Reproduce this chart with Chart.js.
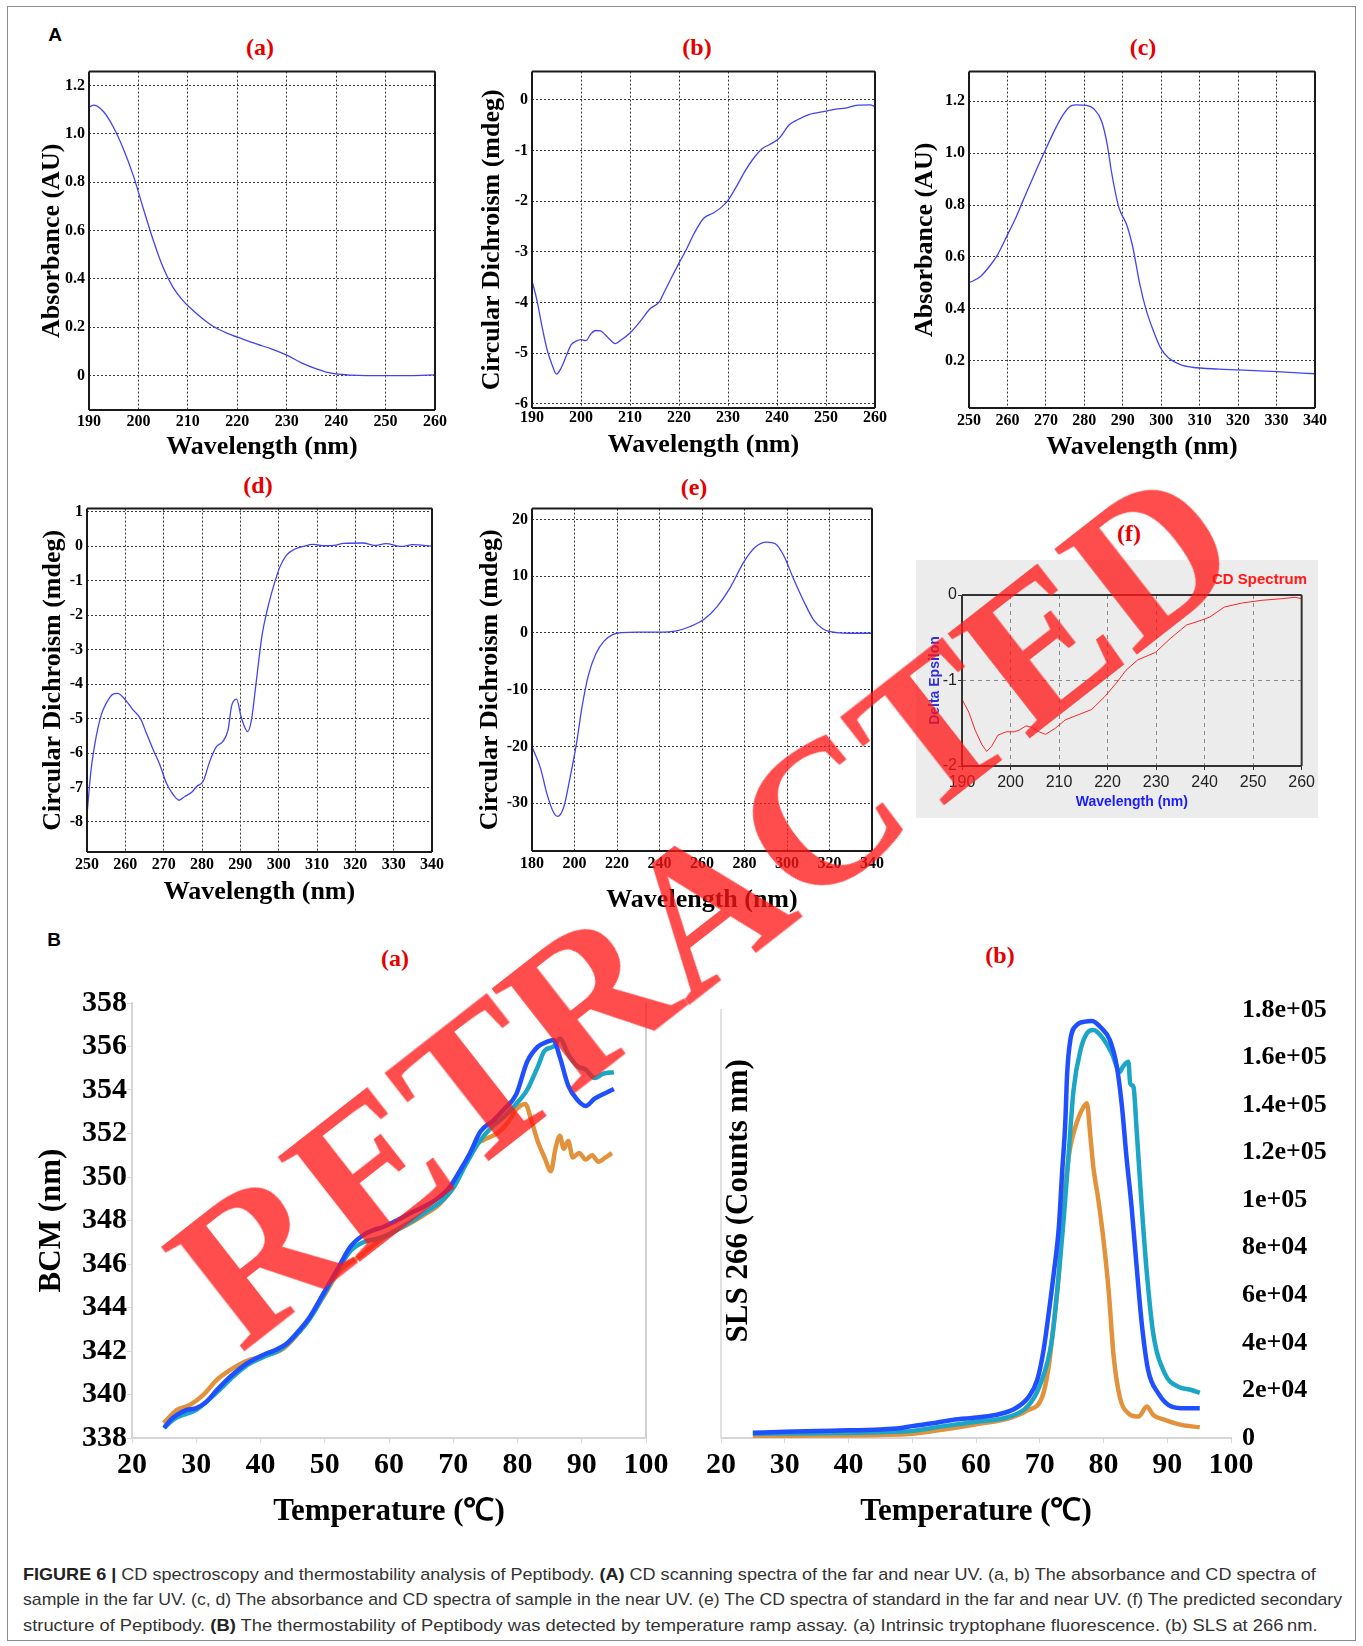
<!DOCTYPE html>
<html>
<head>
<meta charset="utf-8">
<script src="https://cdn.jsdelivr.net/npm/chart.js@4.4.0/dist/chart.umd.min.js"></script>
<style>
  body { margin: 0; background: #fff; }
  #page { position: relative; width: 1363px; height: 1646px; overflow: hidden; font-family: "Liberation Serif", "Times New Roman", serif; }
  #frame { position: absolute; left: 7px; top: 6px; width: 1347px; height: 1633px; border: 1.5px solid #8c8c8c; }
  canvas { position: absolute; }
  .lab { position: absolute; transform: translate(-50%, -50%); white-space: nowrap; }
  .red { color: #e60000; font: bold 24px "Liberation Serif", serif; }
  .big { font: bold 19px "Liberation Sans", Arial, sans-serif; color: #000; }
  #fbox { position: absolute; left: 916px; top: 560px; width: 402px; height: 258px; background: #ececec; }
  #cdspec { position: absolute; right: 56px; top: 570px; font: bold 15px "Liberation Sans", Arial, sans-serif; color: #ff1a1a; }
  #stamp { position: absolute; left: 703px; top: 906px; transform: translate(-50%, -50%) rotate(-38deg);
           font: bold 204px "Liberation Serif", "Times New Roman", serif; line-height: 1; color: rgba(255, 20, 20, 0.76);
           white-space: nowrap; z-index: 5; }
  .cap { position: absolute; left: 23px; white-space: nowrap; transform-origin: left center;
         font: 17px "Liberation Sans Narrow", "Liberation Sans", Arial, sans-serif; color: #333; line-height: 20px; }
  .cap b { color: #222; }
</style>
</head>
<body>
<div id="page">
  <div id="frame"></div>
  <div class="lab big" style="left:55px;top:35px">A</div>
  <div class="lab big" style="left:54px;top:940px">B</div>
  <div class="lab red" style="left:260px;top:47px">(a)</div>
  <div class="lab red" style="left:697px;top:47px">(b)</div>
  <div class="lab red" style="left:1143px;top:47px">(c)</div>
  <div class="lab red" style="left:258px;top:485px">(d)</div>
  <div class="lab red" style="left:694px;top:487px">(e)</div>
  <div id="fbox"></div>
  <div class="lab red" style="left:1129px;top:533px">(f)</div>
  <div id="cdspec">CD Spectrum</div>
  <div class="lab red" style="left:395px;top:958px">(a)</div>
  <div class="lab red" style="left:1000px;top:955px">(b)</div>

  <canvas id="cA"></canvas>
  <canvas id="cB"></canvas>
  <canvas id="cC"></canvas>
  <canvas id="cD"></canvas>
  <canvas id="cE"></canvas>
  <canvas id="cF"></canvas>
  <canvas id="cBCM"></canvas>
  <canvas id="cSLS"></canvas>

  <div id="stamp">RETRACTED</div>

  <div class="cap" data-w="1293" style="top:1565px"><b>FIGURE 6 |</b> CD spectroscopy and thermostability analysis of Peptibody. <b>(A)</b> CD scanning spectra of the far and near UV. (a, b) The absorbance and CD spectra of</div>
  <div class="cap" data-w="1319" style="top:1590px">sample in the far UV. (c, d) The absorbance and CD spectra of sample in the near UV. (e) The CD spectra of standard in the far and near UV. (f) The predicted secondary</div>
  <div class="cap" data-w="1295" style="top:1616px">structure of Peptibody. <b>(B)</b> The thermostability of Peptibody was detected by temperature ramp assay. (a) Intrinsic tryptophane fluorescence. (b) SLS at 266&#8201;nm.</div>
</div>

<script>
// (A a) far UV absorbance
const wlFarAbs = [190,191,193,195,197,199,201,203,205,207,209,211,213,215,218,221,224,227,230,233,236,238,240,243,246,250,255,260];
const farAbs   = [1.11,1.118,1.09,1.025,0.935,0.825,0.69,0.56,0.447,0.365,0.31,0.27,0.235,0.205,0.175,0.152,0.13,0.11,0.085,0.053,0.028,0.015,0.007,0.002,0.0,0.0,0.0,0.003];

// (A b) far UV CD
const wlFarCd = [190,191,192,193,194,195,196,197,198,199,200,201,202,203,204,205,206,207,208,210,212,214,216,217,218.5,220,221.5,223,225,227,228.5,230,232,233.5,235,237,238.5,240.5,242.5,244,246.5,250,252,254,256.5,259,260];
const farCd   = [-3.57,-3.95,-4.45,-4.9,-5.2,-5.41,-5.28,-5.05,-4.83,-4.76,-4.73,-4.75,-4.62,-4.55,-4.56,-4.64,-4.74,-4.81,-4.75,-4.6,-4.38,-4.13,-3.98,-3.79,-3.5,-3.22,-2.95,-2.65,-2.34,-2.23,-2.13,-1.98,-1.66,-1.40,-1.18,-0.96,-0.88,-0.75,-0.49,-0.40,-0.29,-0.22,-0.18,-0.16,-0.10,-0.095,-0.13];

// (A c) near UV absorbance
const wlNearAbs = [250,253,255.5,257.5,260,262,264,267,269.5,272,274.5,276.5,278,280.5,282.5,284.5,286,287,289,291,292.5,294.5,296,298,300,302,305,308,315,320,330,340];
const nearAbs   = [0.50,0.525,0.567,0.61,0.685,0.745,0.815,0.918,1.0,1.08,1.148,1.182,1.186,1.184,1.17,1.123,1.03,0.933,0.79,0.725,0.645,0.49,0.40,0.314,0.245,0.21,0.185,0.175,0.168,0.165,0.158,0.15];

// (A d) near UV CD
const wlNearCd = [250,251,252.4,253.7,255,256.8,258,260,262,264,265.5,267.3,269,270.7,272.5,274,275.5,277.3,278.6,280.3,282,283.8,285.4,286.8,287.7,289,290.3,291.9,292.9,294.1,295.6,297,298.6,300.3,302,304,306.5,309,312,314.5,317,322,325,328,332,335,340];
const nearCd   = [-7.8,-6.55,-5.52,-4.9,-4.56,-4.29,-4.27,-4.46,-4.75,-5.01,-5.43,-5.91,-6.34,-6.87,-7.21,-7.37,-7.26,-7.14,-6.97,-6.82,-6.25,-5.81,-5.67,-5.33,-4.65,-4.44,-4.99,-5.38,-5.04,-3.98,-2.63,-1.86,-1.19,-0.61,-0.27,-0.1,-0.01,0.05,0.01,0.02,0.08,0.09,0.02,0.07,-0.01,0.04,0.0];

// (A e) standard CD
const wlStd = [180,184,187,190,192,195,198,201,203.5,206.5,210,214,218,222,230,240,248,254.5,261,267,273,279.5,285,290.5,294.5,298.5,303,308,312.5,317,323.5,330,340];
const stdCd = [-20.1,-23.8,-28.3,-31.5,-32.3,-30.6,-25.3,-19.3,-13.1,-7.5,-3.7,-1.4,-0.3,0.05,0.15,0.15,0.38,1.14,2.4,4.6,7.8,12.4,15.1,16.0,15.7,13.6,9.6,5.5,2.3,0.7,0.05,-0.05,-0.05];

// (A f) predicted CD spectrum
const wlPred = [190,191.4,192.7,194.1,195.1,196.1,197.4,199.1,200.8,201.8,203.2,204.5,205.9,207.2,209.2,211.3,214,216.7,219.4,221.8,223.8,226.2,229.9,232.9,236.3,238.3,241,244.1,247.8,251.8,255.9,258.6,260];
const predDe = [-1.22,-1.37,-1.58,-1.75,-1.83,-1.77,-1.64,-1.60,-1.60,-1.58,-1.53,-1.55,-1.60,-1.63,-1.56,-1.46,-1.40,-1.34,-1.19,-1.03,-0.88,-0.76,-0.67,-0.51,-0.35,-0.315,-0.26,-0.14,-0.093,-0.062,-0.043,-0.027,-0.043];

// (B a) barycentric mean vs temperature
const bcmTBlue = [25,26,27,28.5,30,31.6,33.2,35.3,37.9,40.4,42.5,44.1,45.6,47.7,49.8,51.9,54,56,57.6,59.1,61.2,63.3,65.4,67.5,69.5,71.1,72.6,74.2,76.3,77.8,79.8,81.5,83.2,84.5,85.6,86.6,87.9,89.3,90.6,92,93.3,95];
const bcmBlue  = [338.45,338.83,339.06,339.29,339.37,339.67,340.2,340.82,341.43,341.82,342.07,342.35,342.81,343.58,344.65,345.72,346.8,347.33,347.56,347.7,348.0,348.33,348.63,349.0,349.56,350.32,351.09,352.08,352.62,353.08,353.8,355.3,356.0,356.2,356.3,355.5,354.2,353.55,353.27,353.6,353.8,354.05];
const bcmTCyan = [25,27,30,33.2,35.3,37.9,40.4,43,45.6,47.7,49.8,51.9,54,56,58,60,62,64,66,68,70,72,74,76,78,80.5,81.5,83.2,84.2,85.6,86.6,87.9,89.3,90.6,92,93.3,95];
const bcmCyan  = [338.5,338.95,339.3,340.1,340.7,341.35,341.72,342.05,342.75,343.5,344.55,345.65,346.6,347.0,347.15,347.35,347.7,348.05,348.45,348.85,349.5,350.6,351.6,352.3,352.8,353.6,354.0,355.1,355.8,356.0,356.36,355.64,355.1,354.95,354.55,354.74,354.82];
const bcmTOrange = [24.9,27,29,31.1,33.2,35.3,37.9,40.4,43.6,46.7,49.8,52.4,55,57.6,60.2,62.8,65.4,68,70,71.6,73.2,74.7,76.8,78.5,79.8,81.2,82.2,83.2,84.2,85.2,85.9,86.6,87.2,87.9,88.6,89.6,90.6,91.6,92.6,93.7,94.7];
const bcmOrange  = [338.68,339.29,339.52,339.98,340.67,341.13,341.55,341.77,342.12,343.12,344.5,345.72,346.26,346.87,347.41,347.79,348.25,348.79,349.56,350.47,351.39,351.7,352.0,352.5,353.1,353.36,352.55,351.6,350.9,350.27,351.3,351.9,351.3,351.65,350.9,351.1,350.8,351.0,350.7,350.9,351.1];

// (B b) SLS 266 vs temperature
const slsTBlue = [25,30,37.5,45,48,50,53.2,56.3,60.5,63.6,66.2,68.3,69.6,70.6,71.4,72.2,73,73.5,74,74.3,74.8,75.8,77.1,78.2,79.7,81,82.1,82.9,83.6,84.4,85.2,86,87,88.6,90.7,92.8,95.1];
const slsBlue  = [2200,2600,3100,3600,4100,5000,6200,7600,8700,10000,12500,17400,24400,37000,52400,69300,88900,111300,132300,153400,167400,173700,175100,175400,172300,167400,156100,139300,118300,97300,72000,48200,28600,18800,13200,12500,12500];
const slsTCyan = [25,35,45,50,55,60,65,68,70,71.9,73,73.7,74.5,75.3,76.4,77.4,78.4,79.7,81.3,82.6,83,83.9,84.2,84.7,85.2,86,86.8,87.8,89.6,91.7,93.8,95.1];
const slsCyan  = [1800,2000,2400,3000,5000,6800,8800,13000,22000,41200,69300,90300,118300,146300,163200,170200,171600,168800,161800,154000,156000,158200,149000,147700,129500,97300,69300,44000,27200,21600,20200,19000];
const slsTOrange = [25,35,45,50,55,60,65,68,70.4,71.4,72.2,73,73.5,74.1,74.8,75.6,76.6,77.4,77.9,78.4,79.2,80,80.8,81.6,82.6,83.9,85.5,86.8,87.8,89.6,92.2,95.1];
const slsOrange  = [800,1000,1300,1800,3600,5800,8200,11500,17400,30000,48200,69300,90300,108500,122500,130900,137900,140800,128100,114100,100000,83300,62200,34200,16700,10400,9000,13200,9700,7600,5500,4500];

const BLUE = '#1f4fff', CYAN = '#1ba6c6', ORANGE = '#e3923c';

Chart.defaults.font.family = '"Liberation Serif", "Times New Roman", serif';
Chart.defaults.color = '#000';
Chart.defaults.animation = false;
Chart.defaults.plugins.legend.display = false;
Chart.defaults.plugins.tooltip.enabled = false;

// strokes the sides of the plot area that the axes do not draw
Chart.register({
    id: 'frame',
    afterDraw(chart, args, o) {
        if (!o.sides) return;
        const { ctx, chartArea: a } = chart;
        ctx.save();
        ctx.strokeStyle = o.color;
        ctx.lineWidth = o.width;
        ctx.beginPath();
        if (o.sides.includes('t')) { ctx.moveTo(a.left, a.top); ctx.lineTo(a.right, a.top); }
        if (o.sides.includes('r')) { ctx.moveTo(a.right, a.top); ctx.lineTo(a.right, a.bottom); }
        if (o.sides.includes('b')) { ctx.moveTo(a.left, a.bottom); ctx.lineTo(a.right, a.bottom); }
        if (o.sides.includes('l')) { ctx.moveTo(a.left, a.top); ctx.lineTo(a.left, a.bottom); }
        ctx.stroke();
        ctx.restore();
    }
});

const pts = (xs, ys) => xs.map((x, i) => ({ x, y: ys[i] }));

function place(id, cv) {
    const c = document.getElementById(id);
    c.style.left = cv[0] + 'px';
    c.style.top = cv[1] + 'px';
    c.width = cv[2] - cv[0];
    c.height = cv[3] - cv[1];
    return c;
}

const oneDecimal = v => (Math.abs(v) < 1e-9 ? '0' : v.toFixed(1));
const integer = v => String(Math.round(v) || 0);

// cv = canvas box, pl = plot area box, both [left, top, right, bottom] in page pixels
function spectrum(id, cv, pl, o) {
    const c = place(id, cv);
    new Chart(c, {
        type: 'line',
        data: { datasets: [{ data: pts(o.xs, o.ys), borderColor: '#4343f2', borderWidth: 1.3, pointRadius: 0, cubicInterpolationMode: 'monotone' }] },
        options: {
            responsive: false, devicePixelRatio: 1,
            layout: { autoPadding: false, padding: { top: pl[1] - cv[1], right: cv[2] - pl[2], left: 0, bottom: 0 } },
            plugins: { frame: { sides: 'trbl', color: '#1a1a1a', width: 2 } },
            scales: {
                x: {
                    type: 'linear', min: o.x[0], max: o.x[1],
                    afterFit: s => { s.height = cv[3] - pl[3]; },
                    ticks: { stepSize: o.x[2], autoSkip: false, maxRotation: 0, padding: o.xPad, font: { size: 16, weight: 'bold' } },
                    grid: { color: '#3a3a3a', drawTicks: false },
                    border: { display: false, dash: [2, 2] },
                    title: { display: true, text: 'Wavelength (nm)', font: { size: 26, weight: 'bold' }, padding: { top: 0, bottom: o.xtPad } }
                },
                y: {
                    min: o.y[0], max: o.y[1],
                    afterFit: s => { s.width = pl[0] - cv[0]; },
                    ticks: { stepSize: o.y[2], includeBounds: false, padding: 4, font: { size: 16, weight: 'bold' }, callback: o.fmt },
                    grid: { color: '#3a3a3a', drawTicks: false },
                    border: { display: false, dash: [2, 2] },
                    title: { display: true, text: o.yTitle, font: { size: 26, weight: 'bold' }, padding: { top: o.ytPad, bottom: 0 } }
                }
            }
        }
    });
}

spectrum('cA', [18, 58, 460, 466], [89, 65, 435, 410], {
    xs: wlFarAbs, ys: farAbs, x: [190, 260, 10], y: [-0.142, 1.257, 0.2], fmt: oneDecimal,
    yTitle: 'Absorbance (AU)', xPad: 2.4, xtPad: 3.4, ytPad: 18.4
});
spectrum('cB', [458, 58, 895, 466], [532, 65, 875, 408], {
    xs: wlFarCd, ys: farCd, x: [190, 260, 10], y: [-6.08, 0.56, 1], fmt: integer,
    yTitle: 'Circular Dichroism (mdeg)', xPad: 0.5, xtPad: 5.4, ytPad: 18.4
});
spectrum('cC', [895, 58, 1340, 466], [969, 66, 1315, 408], {
    xs: wlNearAbs, ys: nearAbs, x: [250, 340, 10], y: [0.018, 1.314, 0.2], fmt: oneDecimal,
    yTitle: 'Absorbance (AU)', xPad: 3.4, xtPad: 3.4, ytPad: 14.4
});
spectrum('cD', [18, 495, 460, 910], [87, 508, 432, 852], {
    xs: wlNearCd, ys: nearCd, x: [250, 340, 10], y: [-8.87, 1.087, 1], fmt: integer,
    yTitle: 'Circular Dichroism (mdeg)', xPad: 3.4, xtPad: 2.4, ytPad: 19.4
});
spectrum('cE', [458, 495, 895, 920], [532, 506, 872, 851], {
    xs: wlStd, ys: stdCd, x: [180, 340, 20], y: [-38.4, 21.9, 10], fmt: integer,
    yTitle: 'Circular Dichroism (mdeg)', xPad: 3.4, xtPad: 4.4, ytPad: 16.4
});

// (f) predicted spectrum, drawn on the grey panel
(function () {
    const cv = [916, 560, 1318, 818], pl = [962, 595, 1307, 766];
    const sans = '"Liberation Sans", Arial, sans-serif';
    new Chart(place('cF', cv), {
        type: 'line',
        data: { datasets: [{ data: pts(wlPred, predDe), borderColor: '#ff2424', borderWidth: 1, pointRadius: 0, tension: 0 }] },
        options: {
            responsive: false, devicePixelRatio: 1,
            layout: { autoPadding: false, padding: { top: pl[1] - cv[1], right: cv[2] - pl[2], left: 0, bottom: 0 } },
            plugins: { frame: { sides: 'trbl', color: '#333', width: 2 } },
            scales: {
                x: {
                    type: 'linear', min: 190, max: 260,
                    afterFit: s => { s.height = cv[3] - pl[3]; },
                    ticks: { stepSize: 10, autoSkip: false, maxRotation: 0, padding: 3, color: '#222', font: { family: sans, size: 16 } },
                    grid: { color: '#8a8a8a', tickColor: '#333', tickLength: 4 },
                    border: { display: false, dash: [4, 4] },
                    title: { display: true, text: 'Wavelength (nm)', color: '#1a1aff', font: { family: sans, size: 14, weight: 'bold' }, padding: { top: 0, bottom: 7.6 } }
                },
                y: {
                    min: -2, max: 0,
                    afterFit: s => { s.width = pl[0] - cv[0]; },
                    ticks: { stepSize: 1, padding: 1, color: '#222', font: { family: sans, size: 16 }, callback: integer },
                    grid: { color: '#8a8a8a', tickColor: '#333', tickLength: 4 },
                    border: { display: false, dash: [4, 4] },
                    title: { display: true, text: 'Delta Epsilon', color: '#3030d8', font: { family: sans, size: 14, weight: 'bold' }, padding: { top: 10.6, bottom: 0 } }
                }
            }
        }
    });
})();

// shared look of the thermal ramp panels
const thermoX = (cv, pl) => ({
    type: 'linear', min: 20, max: 100,
    afterFit: s => { s.height = cv[3] - pl[3]; },
    ticks: { stepSize: 10, autoSkip: false, maxRotation: 0, padding: 4, font: { size: 30, weight: 'bold' } },
    grid: { drawOnChartArea: false, tickLength: 5, tickColor: '#d6d6d6' },
    border: { color: '#d6d6d6', width: 2 },
    title: { display: true, text: 'Temperature (\u2103)', font: { size: 31, weight: 'bold' }, padding: { top: 0, bottom: 9.4 } }
});
const trace = (xs, ys, color, order) => ({ data: pts(xs, ys), borderColor: color, borderWidth: 4.5, pointRadius: 0, cubicInterpolationMode: 'monotone', order });

(function () {
    const cv = [18, 985, 690, 1540], pl = [132, 1003, 646, 1438];
    new Chart(place('cBCM', cv), {
        type: 'line',
        data: { datasets: [
            trace(bcmTBlue, bcmBlue, BLUE, 0),
            trace(bcmTCyan, bcmCyan, CYAN, 1),
            trace(bcmTOrange, bcmOrange, ORANGE, 2)
        ] },
        options: {
            responsive: false, devicePixelRatio: 1,
            layout: { autoPadding: false, padding: { top: pl[1] - cv[1], right: cv[2] - pl[2], left: 0, bottom: 0 } },
            plugins: { frame: { sides: 'r', color: '#d0d0d0', width: 2 } },
            scales: {
                x: thermoX(cv, pl),
                y: {
                    min: 338, max: 358,
                    afterFit: s => { s.width = pl[0] - cv[0]; },
                    ticks: { stepSize: 2, padding: 0, font: { size: 30, weight: 'bold' } },
                    grid: { drawOnChartArea: false, tickLength: 5, tickColor: '#d6d6d6' },
                    border: { color: '#d6d6d6', width: 2 },
                    title: { display: true, text: 'BCM (nm)', font: { size: 31, weight: 'bold' }, padding: { top: 15.4, bottom: 0 } }
                }
            }
        }
    });
})();

const expLabel = v => (v === 0 ? '0' : v.toExponential().replace(/e\+(\d)$/, 'e+0$1'));

(function () {
    const cv = [690, 990, 1352, 1540], pl = [721, 1010, 1231, 1438];
    new Chart(place('cSLS', cv), {
        type: 'line',
        data: { datasets: [
            trace(slsTBlue, slsBlue, BLUE, 0),
            trace(slsTCyan, slsCyan, CYAN, 1),
            trace(slsTOrange, slsOrange, ORANGE, 2)
        ] },
        options: {
            responsive: false, devicePixelRatio: 1,
            layout: { autoPadding: false, padding: { top: pl[1] - cv[1], right: 0, left: 0, bottom: 0 } },
            scales: {
                x: thermoX(cv, pl),
                y: {
                    position: 'right', min: 0, max: 180000,
                    afterFit: s => { s.width = cv[2] - pl[2]; },
                    ticks: { stepSize: 20000, padding: 3, font: { size: 26, weight: 'bold' }, callback: expLabel },
                    grid: { display: false },
                    border: { display: false }
                },
                yTitle: {
                    position: 'left',
                    afterFit: s => { s.width = pl[0] - cv[0]; },
                    ticks: { display: false },
                    grid: { display: false },
                    border: { color: '#e2e2e2', width: 2 },
                    title: { display: true, text: '\u00a0\u00a0\u00a0\u00a0\u00a0\u00a0SLS 266 (Counts nm)', font: { size: 31, weight: 'bold' }, padding: { top: 30.4, bottom: 0 } }
                }
            }
        }
    });
})();

// squeeze the caption lines to the width they take in the figure
document.querySelectorAll('.cap').forEach(el => {
    const k = Number(el.dataset.w) / el.offsetWidth;
    el.style.transform = 'scaleX(' + k + ')';
});
</script>
</body>
</html>
